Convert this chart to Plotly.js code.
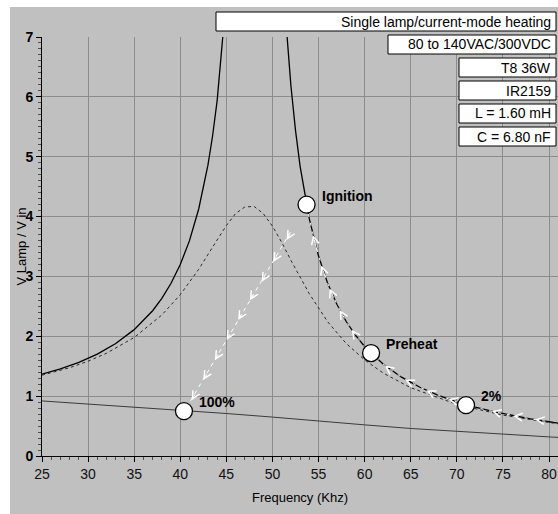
<!DOCTYPE html>
<html>
<head>
<meta charset="utf-8">
<script src="https://cdn.plot.ly/plotly-3.0.1.min.js"></script>
<style>html,body{margin:0;padding:0;background:#fff;}#chart{width:558px;height:514px;}</style>
</head>
<body>
<div id="chart"></div>
<script>
// ---- data ----
const freqUnloaded = [25,27,29,31,33,35,37,38,39,40,41,42,43,43.5,44,44.5,45,45.5,null,51,51.5,52,52.5,53,53.7,54,55,56,57,58,59,60,62,64,66,68,70,72,74,76,78,80,81];
const gainUnloaded = [1.367,1.456,1.565,1.703,1.879,2.111,2.427,2.634,2.885,3.198,3.598,4.127,4.859,5.342,5.938,6.693,7.68,9.03,null,8.53,7.18,6.19,5.44,4.84,4.19,3.96,3.34,2.88,2.53,2.247,2.019,1.830,1.536,1.317,1.148,1.014,0.905,0.815,0.740,0.675,0.620,0.572,0.550];

const freqLoaded = [25,28,30,32,35,38,40,42,44,45,46,47,48,49,50,51,52,54,56,58,60,62,65,70,75,80,81];
const gainLoaded = [1.35,1.475,1.584,1.717,1.98,2.356,2.695,3.12,3.61,3.85,4.05,4.16,4.17,4.05,3.84,3.57,3.27,2.71,2.24,1.88,1.605,1.387,1.14,0.863,0.683,0.557,0.537];

const freqLower = [25,30,35,40,45,50,55,60,65,70,75,80,81];
const gainLower = [0.92,0.87,0.82,0.76,0.71,0.65,0.58,0.52,0.46,0.41,0.36,0.32,0.31];

const pathCurveX = [53.7,54,55,56,57,58,59,60,62,64,66,68,70,72,74,76,78,80];
const pathCurveY = [4.19,3.96,3.34,2.88,2.53,2.247,2.019,1.830,1.536,1.317,1.148,1.014,0.905,0.815,0.740,0.675,0.620,0.572];
const pathDimX = [51.95,40.8];
const pathDimY = [3.74,0.84];

const arrowTipX  = [54.4,55.3,56.2,57.3,58.6,62.2,64.4,66.7,69.1,73.8,76.1,78.5, 51.54,50.09,48.83,47.56,46.29,45.03,43.76,42.50,41.23];
const arrowTipY  = [3.69,3.18,2.80,2.44,2.11,1.51,1.28,1.10,0.95,0.75,0.67,0.61, 3.61,3.24,2.91,2.60,2.27,1.94,1.60,1.27,0.93];
const arrowTailX = [54.9,55.8,56.7,57.8,59.1,62.7,64.9,67.2,69.6,74.3,76.6,79.0, 51.99,50.54,49.28,48.01,46.74,45.48,44.21,42.95,41.68];
const arrowTailY = [3.39,2.96,2.62,2.30,2.00,1.45,1.24,1.06,0.93,0.73,0.66,0.60, 3.73,3.36,3.03,2.72,2.39,2.06,1.72,1.39,1.05];

const pointX = [53.7,60.7,71.0,40.4];
const pointY = [4.2,1.72,0.85,0.75];
const pointLabels = ['Ignition','Preheat','2%','100%'];

const infoLines = ['Single lamp/current-mode heating','80 to 140VAC/300VDC','T8 36W','IR2159','L = 1.60 mH','C = 6.80 nF'];

const xTitle = 'Frequency (Khz)';
const yTitle = 'V Lamp / V in';

// ---- layout helpers (pixel geometry of the plot area) ----
const W = 558, H = 514;
const M = {l:42, r:0, t:37, b:58};
const PW = W - M.l - M.r, PH = H - M.t - M.b;
const px2paperX = p => (p - M.l) / PW;
const py2paperY = p => (H - M.b - p) / PH;

const FONT = 'Liberation Sans, Arial, sans-serif';

const traces = [
  {x: freqUnloaded, y: gainUnloaded, mode:'lines', line:{color:'#000', width:1.3}, connectgaps:false, hoverinfo:'skip'},
  {x: freqLoaded, y: gainLoaded, mode:'lines', line:{color:'#2a2a2a', width:1, dash:'3px,3px'}, hoverinfo:'skip'},
  {x: freqLower, y: gainLower, mode:'lines', line:{color:'#3a3a3a', width:1}, hoverinfo:'skip'},
  {x: pathCurveX, y: pathCurveY, mode:'lines', line:{color:'#fff', width:1, dash:'3px,6px'}, hoverinfo:'skip'},
  {x: pathDimX, y: pathDimY, mode:'lines', line:{color:'#fff', width:1, dash:'4px,4px'}, hoverinfo:'skip'},
  {x: pointX, y: pointY, mode:'markers', marker:{size:17, color:'#fff', line:{color:'#000', width:1.3}}, hoverinfo:'skip', cliponaxis:false}
];

const annotations = [];
// arrows
for (let i = 0; i < arrowTipX.length; i++) {
  annotations.push({
    x: arrowTipX[i], y: arrowTipY[i], ax: arrowTailX[i], ay: arrowTailY[i],
    xref:'x', yref:'y', axref:'x', ayref:'y', text:'', showarrow:true,
    arrowhead:5, arrowsize:1.5, arrowwidth:1, arrowcolor:'#fff', standoff:0, startstandoff:0
  });
}
// point labels
for (let i = 0; i < pointX.length; i++) {
  annotations.push({
    x: pointX[i], y: pointY[i], xref:'x', yref:'y', text:'<b>'+pointLabels[i]+'</b>',
    showarrow:false, xanchor:'left', yanchor:'middle', xshift:13, yshift:9,
    font:{family:FONT, size:14, color:'#000'}
  });
}
// y axis title
annotations.push({xref:'paper', yref:'paper', x:px2paperX(21), y:0.5, xanchor:'center', yanchor:'middle',
  textangle:-90, text:yTitle, showarrow:false, font:{family:FONT, size:13, color:'#000'}});

// info boxes
const boxLeft = [216,388,459,459,459,459];
const boxTop = [12,35,58,81,104,127];
const boxH = 19, boxRight = 556;
const shapes = [
  {type:'rect', xref:'paper', yref:'paper', x0:px2paperX(10), x1:px2paperX(W), y0:py2paperY(H), y1:py2paperY(7),
   fillcolor:'#c0c0c0', line:{width:0}, layer:'below'}
];
for (let i = 0; i < infoLines.length; i++) {
  shapes.push({type:'rect', xref:'paper', yref:'paper',
    x0:px2paperX(boxLeft[i]), x1:px2paperX(boxRight), y0:py2paperY(boxTop[i]+boxH), y1:py2paperY(boxTop[i]),
    fillcolor:'#fff', line:{color:'#000', width:1}, layer:'above'});
  annotations.push({xref:'paper', yref:'paper', x:px2paperX(boxRight-3), y:py2paperY(boxTop[i]+boxH/2),
    xanchor:'right', yanchor:'middle', text:infoLines[i], showarrow:false,
    font:{family:FONT, size:14, color:'#000'}});
}

const layout = {
  width:W, height:H, margin:{l:M.l, r:M.r, t:M.t, b:M.b, pad:0},
  paper_bgcolor:'#fff', plot_bgcolor:'#c0c0c0', showlegend:false,
  font:{family:FONT, color:'#000'},
  xaxis:{range:[25, 25 + PW/((549-42)/55)], tick0:25, dtick:5, ticks:'outside', ticklen:5, tickcolor:'#000',
    showline:true, linecolor:'#000', linewidth:1, showgrid:true, gridcolor:'#8c8c8c', gridwidth:1, zeroline:false,
    minor:{dtick:1, tick0:25, ticks:'outside', ticklen:3, tickcolor:'#505050', showgrid:false},
    tickfont:{family:FONT, size:14, color:'#111'},
    title:{text:xTitle, font:{family:FONT, size:13, color:'#000'}, standoff:12}},
  yaxis:{range:[0,7], dtick:1, ticks:'outside', ticklen:5, tickcolor:'#000',
    showline:true, linecolor:'#000', linewidth:1, showgrid:true, gridcolor:'#8c8c8c', gridwidth:1, zeroline:false,
    minor:{dtick:0.1, ticks:'outside', ticklen:3, tickcolor:'#505050', showgrid:false},
    tickfont:{family:FONT, size:14, color:'#000', weight:'bold'}},
  shapes:shapes, annotations:annotations
};

Plotly.newPlot('chart', traces, layout, {staticPlot:true, displayModeBar:false});
</script>
</body>
</html>
